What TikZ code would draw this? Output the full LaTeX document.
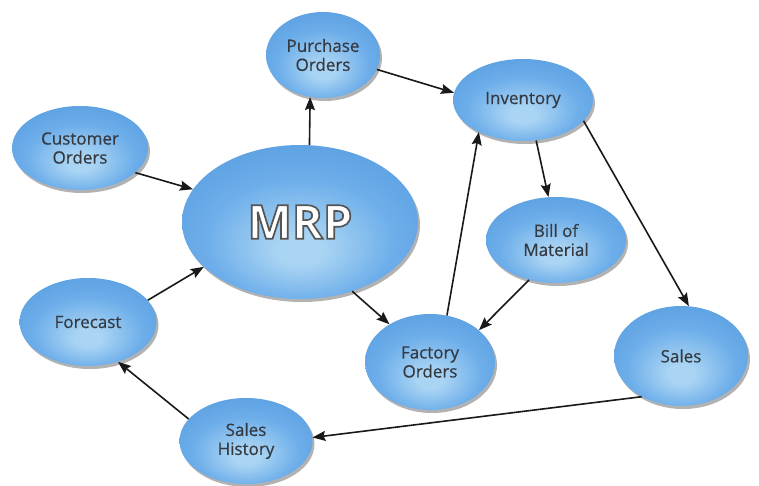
\documentclass[tikz,border=0pt]{standalone}
\usepackage{fontspec}
\setmainfont{Open Sans}
\newfontfamily\lblfont{Open Sans}[FakeBold=0.5]
\usetikzlibrary{shapes.geometric,arrows.meta,shadows}
\definecolor{bcA}{HTML}{A9D4F3}
\definecolor{bcB}{HTML}{6DAEEA}
\definecolor{bcC}{HTML}{5298DD}
\definecolor{bcD}{HTML}{3478C4}
\definecolor{txt}{HTML}{353A42}
\pgfdeclareradialshading{blob}{\pgfpoint{0bp}{-10bp}}{color(0bp)=(bcA); color(5bp)=(bcA); color(20bp)=(bcB); color(38bp)=(bcC); color(50bp)=(bcD)}
\tikzset{
  blobnode/.style={ellipse, inner sep=0pt, shading=blob, align=center, text=txt,
    font=\lblfont\fontsize{17}{19}\selectfont,
    drop shadow={shadow xshift=2pt, shadow yshift=-3pt, opacity=0.3, fill=black}},
  arr/.style={draw=black!90, line width=1.6pt, -{Stealth[length=13pt,width=10pt,inset=2pt]}},
  mrpfont/.style={font=\fontsize{47}{47}\selectfont\bfseries, inner sep=0pt}
}
\begin{document}
\begin{tikzpicture}[x=1pt,y=-1pt]
\useasboundingbox[fill=white] (0,0) rectangle (759,486);
\node[blobnode, minimum width=114pt, minimum height=86pt] (po) at (323,55) {Purchase\\Orders};
\node[blobnode, minimum width=140pt, minimum height=82pt] (inv) at (523,100) {Inventory};
\node[blobnode, minimum width=136pt, minimum height=84pt] (co) at (80,148) {Customer\\Orders};
\node[blobnode, minimum width=236pt, minimum height=154pt] (mrp) at (300,222) {};
\node[blobnode, minimum width=140pt, minimum height=86pt] (bom) at (556,240) {Bill of\\Material};
\node[blobnode, minimum width=137pt, minimum height=88pt] (fc) at (88,322) {Forecast};
\node[blobnode, minimum width=130pt, minimum height=96pt] (fac) at (430,362) {Factory\\Orders};
\node[blobnode, minimum width=134pt, minimum height=100pt] (sales) at (681,356) {Sales};
\node[blobnode, minimum width=133pt, minimum height=86pt] (sh) at (246,441) {Sales\\History};
\node[mrpfont, text=white] (mrpt) at (mrp.center) {\special{pdf:literal direct 2 Tr 1.7 w 0.33 0.33 0.33 RG}MRP\special{pdf:literal direct 0 Tr}};
\draw[arr] (mrp.83) -- (po.253);
\draw[arr] (po.-15) -- (inv.174);
\draw[arr] (co.-24) -- (mrp.163);
\draw[arr] (fc.20) -- (mrp.205);
\draw[arr] (mrp.-53) -- (fac.137);
\draw[arr] (fac.70) -- (inv.216);
\draw[arr] (inv.-72) -- (bom.100);
\draw[arr] (bom.236) -- (fac.33);
\draw[arr] (inv.-19) -- (sales.81);
\draw[arr] (sales.226) -- (sh.3);
\draw[arr] (sh.159) -- (fc.-53);
\end{tikzpicture}
\end{document}
